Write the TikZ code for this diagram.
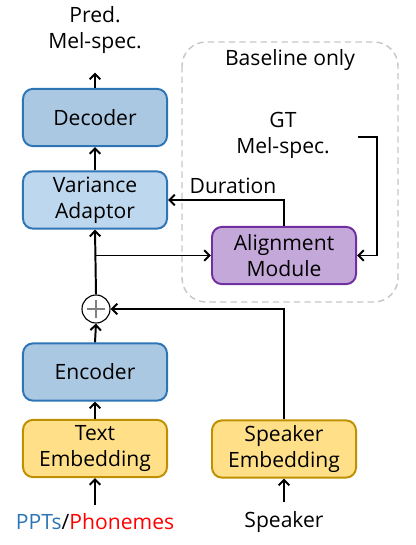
\documentclass[tikz,border=0pt]{standalone}
\usepackage{fontspec}
\setmainfont{Open Sans}
\usepackage{tikz}
\usetikzlibrary{arrows.meta,positioning}
\definecolor{encblue}{HTML}{ABC8E3}
\definecolor{varblue}{HTML}{BDD7EE}
\definecolor{edgeblue}{HTML}{2E75B6}
\definecolor{alnpurple}{HTML}{C5A8DA}
\definecolor{edgepurple}{HTML}{7030A0}
\definecolor{embyellow}{HTML}{FFE089}
\definecolor{edgegold}{HTML}{BF9000}
\definecolor{pptblue}{HTML}{2E75B6}
\definecolor{phred}{HTML}{FF0000}

\begin{document}
\begin{tikzpicture}[x=0.025cm,y=-0.025cm,
  font=\fontsize{15}{18.5}\selectfont,
  block/.style={rounded corners=0.25cm,line width=1.4pt,minimum width=3.6cm,
    minimum height=1.43cm,align=center,inner sep=0pt},
  arr/.style={line width=1.4pt,-{Straight Barb[length=3.8pt,width=7.5pt]}}]
  \useasboundingbox (0,0) rectangle (415,545);
  % baseline-only region
  \draw[gray!45,line width=1pt,dash pattern=on 4.5pt off 3pt,rounded corners=0.6cm]
    (182,42) rectangle (398,302);
  \node (base) at (290,60) {Baseline only};
  % blocks
  \node[block,draw=edgeblue,fill=encblue] (dec) at (95,117.5) {Decoder};
  \node[block,draw=edgeblue,fill=varblue] (va) at (95,200) {Variance\\Adaptor};
  \node[block,draw=edgepurple,fill=alnpurple] (align) at (284,255.5) {Alignment\\Module};
  \node[block,draw=edgeblue,fill=encblue] (enc) at (95,372) {Encoder};
  \node[block,draw=edgegold,fill=embyellow] (txtemb) at (95,448.5) {Text\\Embedding};
  \node[block,draw=edgegold,fill=embyellow] (spkemb) at (284,449) {Speaker\\Embedding};
  \node[circle,draw,line width=0.8pt,minimum size=0.7cm,inner sep=0pt] (plus) at (96,309) {};
  \draw[gray,line width=0.8pt] (plus.center) +(-9,0) -- +(9,0) (plus.center) +(0,-9) -- +(0,9);
  % texts
  \node[align=center] (pred) at (95,30) {Pred.\\Mel-spec.};
  \node[align=center] (gt) at (283,135) {GT\\Mel-spec.};
  \node (dur) at (233,186) {Duration};
  \node (intxt) at (95,522) {\textcolor{pptblue}{PPTs}/\textcolor{phred}{Phonemes}};
  \node (spk) at (284,522) {Speaker};
  \coordinate (gtout) at (358,137);
  \coordinate (gtturn) at (377,137);
  % connectors
  \draw[arr,shorten <=3pt] (intxt.north) -- (txtemb.south);
  \draw[arr,shorten <=3pt] (spk.north) -- (spkemb.south);
  \draw[arr] (txtemb.north) -- (enc.south);
  \draw[arr] (enc.north) -- (plus.south);
  \draw[arr] (spkemb.north) |- (plus.east);
  \draw[arr] (plus.north) -- (va.south);
  \draw[arr] (plus.north |- align.west) -- (align.west);
  \draw[arr] (align.north) |- (va.east);
  \draw[arr] (gtout) -- (gtturn) |- (align.east);
  \draw[arr] (va.north) -- (dec.south);
  \draw[arr,shorten >=10pt] (dec.north) -- (pred.south);
\end{tikzpicture}
\end{document}
